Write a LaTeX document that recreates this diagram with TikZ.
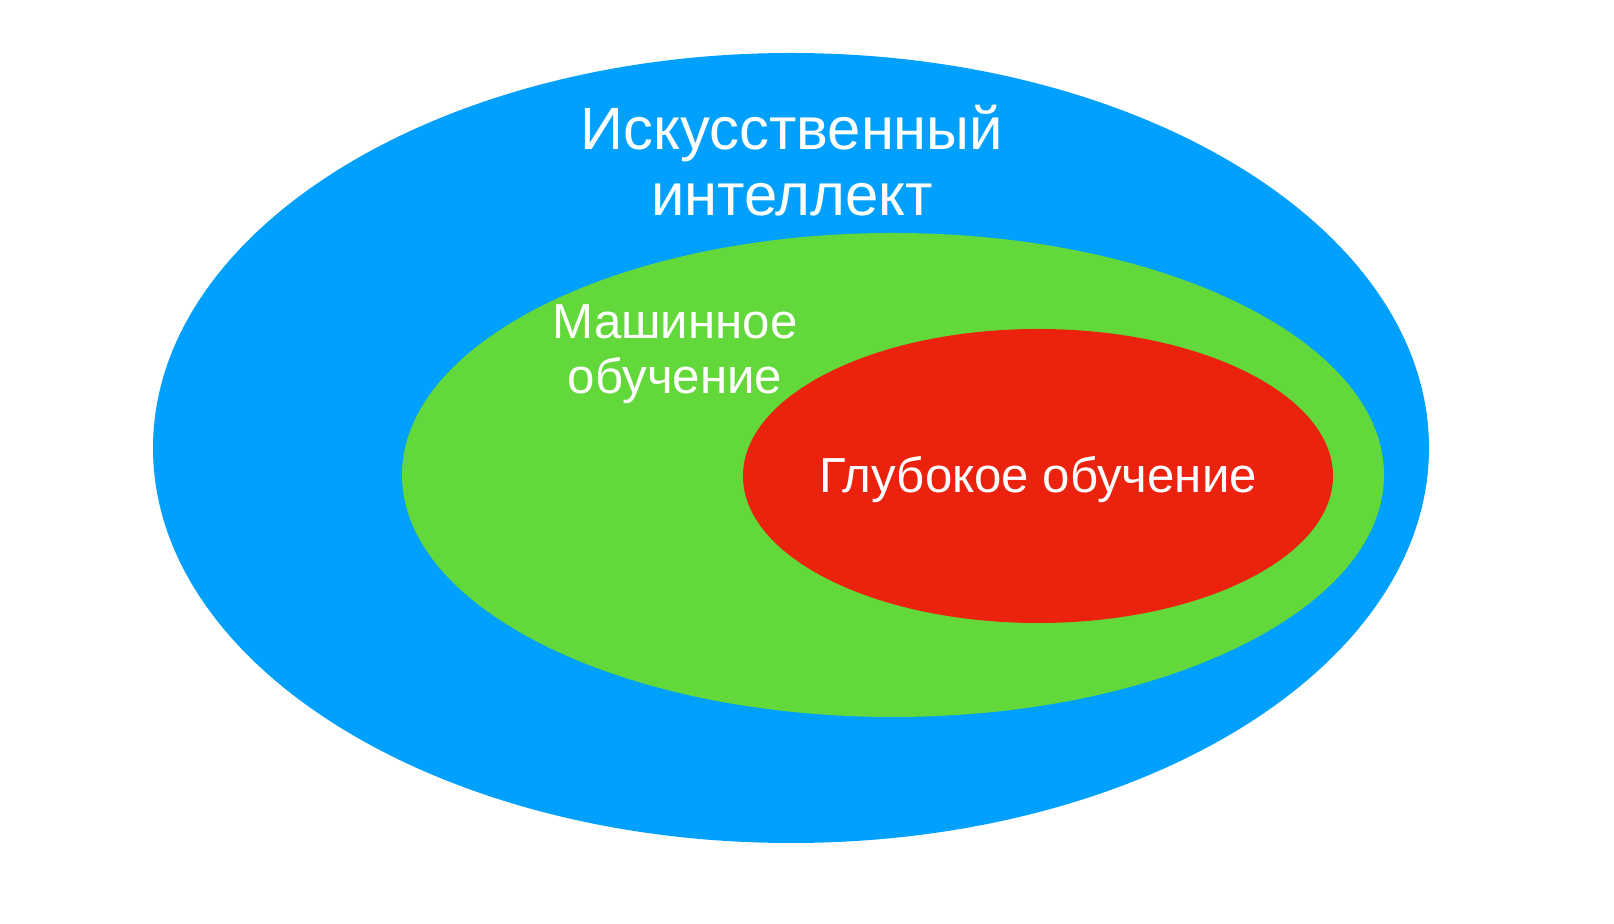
\documentclass[tikz,border=0pt]{standalone}
\usepackage{fontspec}
\setmainfont{Liberation Sans}
\usetikzlibrary{shapes.geometric}
\definecolor{aiblue}{RGB}{0,160,255}
\definecolor{mlgreen}{RGB}{98,216,58}
\definecolor{dlred}{RGB}{235,34,14}

\begin{document}
\begin{tikzpicture}[
		set/.style={ellipse, inner sep=0pt, outer sep=0pt},
		setlabel/.style={text=white, align=center, inner sep=0pt}]
				\useasboundingbox (0,0) rectangle (16.14,9.24);
				\node[set, fill=aiblue, minimum width=12.76cm, minimum height=7.9cm] (ai) at (7.91,4.76) {};
				\node[set, fill=mlgreen, minimum width=9.82cm, minimum height=4.84cm] (ml) at (8.93,4.49) {};
				\node[set, fill=dlred, minimum width=5.9cm, minimum height=2.94cm] (dl) at (10.38,4.48) {};
				\node[setlabel, font=\fontsize{17}{18.8}\selectfont] (ailabel) at (7.92,7.63) {Искусственный\\интеллект};
				\node[setlabel, font=\fontsize{14}{15.6}\selectfont] (mllabel) at (6.75,5.70) {Машинное\\обучение};
				\node[setlabel, font=\fontsize{14}{15.6}\selectfont, anchor=base] (dllabel) at (10.38,4.31) {Глубокое обучение};
			\end{tikzpicture}
\end{document}
